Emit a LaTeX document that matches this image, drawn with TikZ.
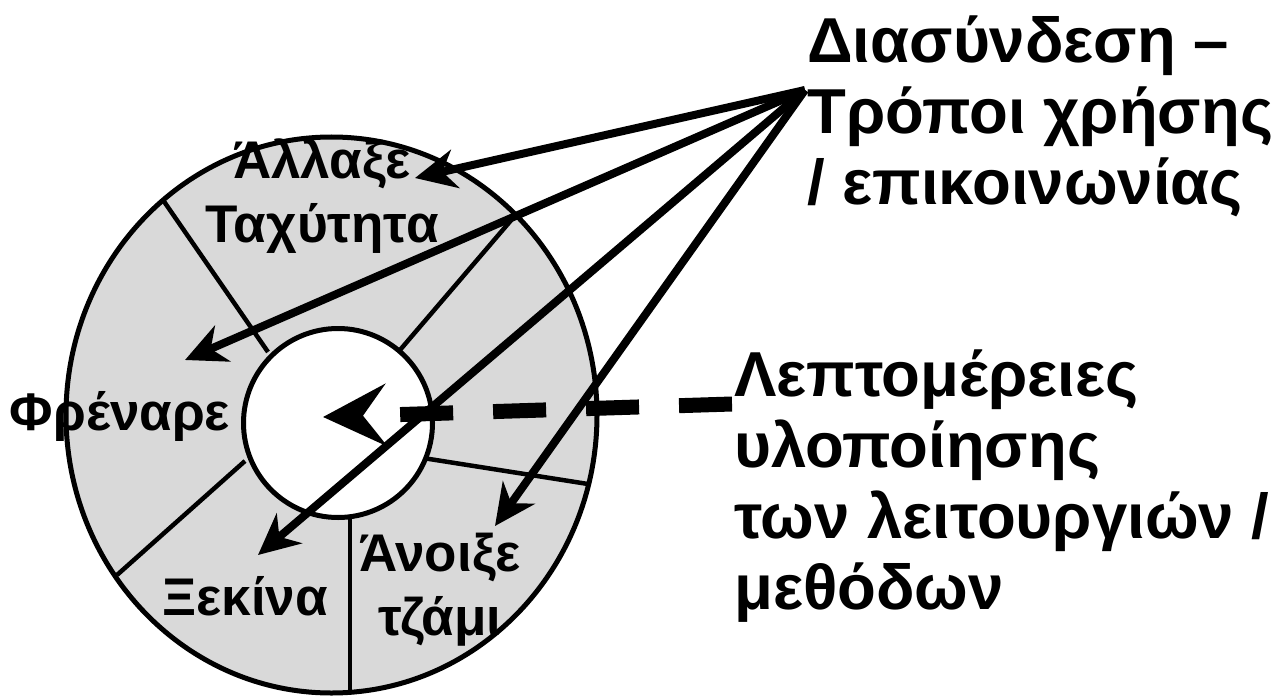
\documentclass[tikz,border=0pt]{standalone}
\usepackage{fontspec}
\setmainfont{Liberation Sans}
\usetikzlibrary{arrows.meta,shapes.geometric}

\begin{document}
\begin{tikzpicture}[x=1pt,y=-1pt,
  ring/.style={draw, line width=5pt, inner sep=0pt},
  divider/.style={line width=4.5pt},
  label/.style={font=\bfseries\fontsize{53}{64}\selectfont, align=center, inner sep=0pt, anchor=base},
  note/.style={font=\bfseries\fontsize{63.5}{71}\selectfont, align=left, inner sep=0pt, anchor=base west},
  pointer/.style={line width=8pt, -{Stealth[length=41pt,width=39pt,inset=13pt]}},
  bigdash/.style={line width=15pt, dash pattern=on 53pt off 40pt,
    -{Stealth[length=63pt,width=62pt,inset=23pt]}}
]
\useasboundingbox (0,0) rectangle (1287,698);

% outer ring of operations
\node[ellipse, ring, fill=black!15, minimum width=531pt, minimum height=556pt] (outer) at (331.5,415) {};

% borders between the operations
\draw[divider] (163,200) -- (268,352);
\draw[divider] (513,218) -- (400,350);
\draw[divider] (423,458) -- (588,484);
\draw[divider] (350,518) -- (350,693);
\draw[divider] (245,461) -- (117,575);

% inner core
\node[circle, ring, fill=white, minimum size=189pt] (core) at (338,423) {};

% operation names (anchored at the baseline of the last line)
\node[label] (speed) at (322,242) {Άλλαξε\\Ταχύτητα};
\node[label] (brake) at (120,430) {Φρέναρε};
\node[label] (start) at (245,615) {Ξεκίνα};
\node[label] (window) at (440,635) {Άνοιξε\\τζάμι};

% side notes
\node[note] (iface) at (807,204) {Διασύνδεση –\\Τρόποι χρήσης\\/ επικοινωνίας};
\node[note] (impl) at (734,609) {Λεπτομέρειες\\υλοποίησης\\των λειτουργιών /\\μεθόδων};

% pointers from the interface note into the ring
\coordinate (hub) at (805,90);
\coordinate (toSpeed) at (415,178);
\coordinate (toBrake) at (185,360);
\coordinate (toStart) at (258,555);
\coordinate (toWindow) at (495,526);
\draw[pointer] (hub) -- (toSpeed);
\draw[pointer] (hub) -- (toBrake);
\draw[pointer] (hub) -- (toStart);
\draw[pointer] (hub) -- (toWindow);

% dashed pointer from the implementation note into the core
\coordinate (implEnd) at (732,404);
\coordinate (coreTip) at (323,417);
\draw[bigdash] (implEnd) -- (coreTip);
\end{tikzpicture}
\end{document}
